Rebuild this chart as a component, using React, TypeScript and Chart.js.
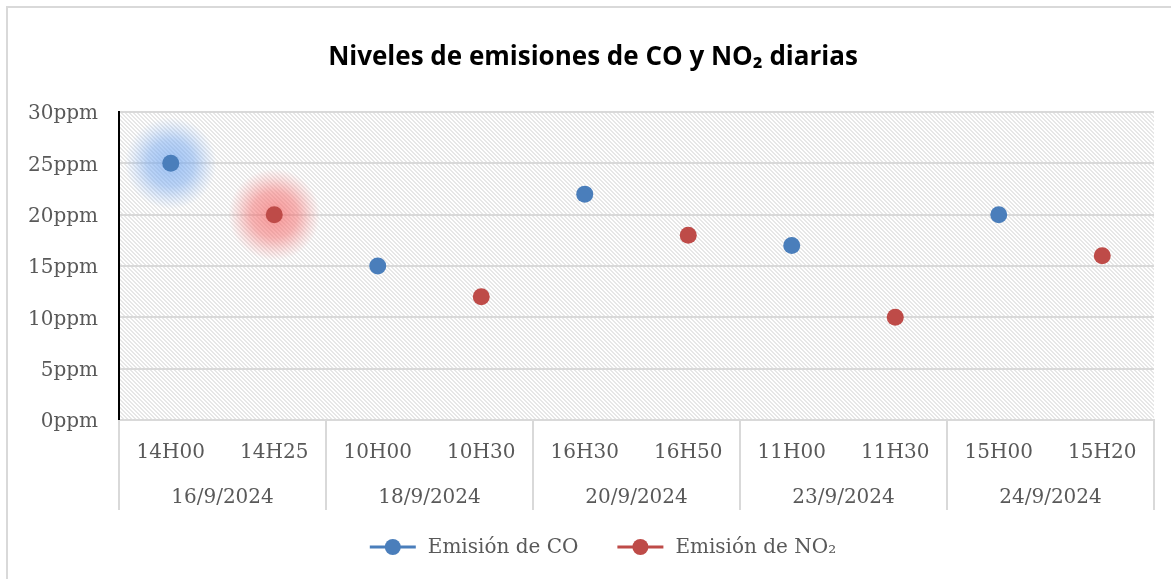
import React, { useEffect, useRef } from "react";
import { Chart, registerables } from "chart.js";

Chart.register(...registerables);

const times = ["14H00", "14H25", "10H00", "10H30", "16H30", "16H50", "11H00", "11H30", "15H00", "15H20"];
const days = ["16/9/2024", "16/9/2024", "18/9/2024", "18/9/2024", "20/9/2024", "20/9/2024", "23/9/2024", "23/9/2024", "24/9/2024", "24/9/2024"];
const coValues = [25, null, 15, null, 22, null, 17, null, 20, null];
const no2Values = [null, 20, null, 12, null, 18, null, 10, null, 16];
const seriesNames = ["Emisión de CO", "Emisión de NO₂"];
const seriesColors = ["#4a7ebb", "#be4b48"];
const glowColors = ["120,170,240", "245,110,110"];
const yTicks = [0, 5, 10, 15, 20, 25, 30];
const titleText = "Niveles de emisiones de CO y NO₂ diarias";

const SERIF = "'DejaVu Serif', serif";
const TEXT = "#595959";
const GRID = "#d9d9d9";

function makeHatch(): CanvasPattern | string {
  const c = document.createElement("canvas");
  c.width = 4;
  c.height = 4;
  const g = c.getContext("2d");
  if (!g) return "#fff";
  g.fillStyle = "#ffffff";
  g.fillRect(0, 0, 4, 4);
  g.fillStyle = "#e7e7e7";
  for (let y = 0; y < 4; y++) {
    for (let x = 0; x < 4; x++) {
      const m = (((x - y) % 4) + 4) % 4;
      if (m === 0 || m === 1) g.fillRect(x, y, 1, 1);
    }
  }
  const ctx = document.createElement("canvas").getContext("2d")!;
  return ctx.createPattern(c, "repeat") || "#fff";
}

const decorPlugin = {
  id: "decor",
  beforeDraw(chart: any) {
    const { ctx, chartArea } = chart;
    ctx.save();
    ctx.fillStyle = "#ffffff";
    ctx.fillRect(0, 0, chart.width, chart.height);
    ctx.strokeStyle = GRID;
    ctx.lineWidth = 2;
    ctx.strokeRect(7, 7, chart.width + 20, chart.height + 20);
    ctx.fillStyle = makeHatch();
    ctx.fillRect(chartArea.left, chartArea.top, chartArea.right - chartArea.left, chartArea.bottom - chartArea.top);
    ctx.restore();
  },
  beforeDatasetsDraw(chart: any) {
    const { ctx } = chart;
    ctx.save();
    chart.data.datasets.forEach((ds: any, di: number) => {
      const idx = ds.data.findIndex((v: any) => v !== null);
      const meta = chart.getDatasetMeta(di);
      const el = meta.data[idx];
      if (!el) return;
      const r = 46;
      const grad = ctx.createRadialGradient(el.x, el.y, 0, el.x, el.y, r);
      grad.addColorStop(0, `rgba(${glowColors[di]},0.7)`);
      grad.addColorStop(0.5, `rgba(${glowColors[di]},0.5)`);
      grad.addColorStop(0.8, `rgba(${glowColors[di]},0.18)`);
      grad.addColorStop(1, `rgba(${glowColors[di]},0)`);
      ctx.fillStyle = grad;
      ctx.beginPath();
      ctx.arc(el.x, el.y, r, 0, Math.PI * 2);
      ctx.fill();
    });
    ctx.restore();
  },
  afterDraw(chart: any) {
    const { ctx, chartArea } = chart;
    const xs = chart.scales.x;
    const n = times.length;
    const cw = (chartArea.right - chartArea.left) / n;
    ctx.save();
    ctx.strokeStyle = GRID;
    ctx.lineWidth = 2;
    const axisBottom = chartArea.bottom + 90;
    let start = 0;
    const bounds: number[] = [0];
    for (let i = 1; i <= n; i++) {
      if (i === n || days[i] !== days[start]) {
        bounds.push(i);
        const x0 = xs.getPixelForValue(start) - cw / 2;
        const x1 = xs.getPixelForValue(i - 1) + cw / 2;
        ctx.fillStyle = TEXT;
        ctx.font = `20px ${SERIF}`;
        ctx.textAlign = "center";
        ctx.textBaseline = "middle";
        ctx.fillText(days[start], (x0 + x1) / 2, chartArea.bottom + 78);
        start = i;
      }
    }
    bounds.forEach((b) => {
      const x = b < n ? xs.getPixelForValue(b) - cw / 2 : xs.getPixelForValue(n - 1) + cw / 2;
      ctx.beginPath();
      ctx.moveTo(x, chartArea.bottom);
      ctx.lineTo(x, axisBottom);
      ctx.stroke();
    });
    ctx.fillStyle = "#000";
    ctx.font = `bold 26px 'Open Sans', sans-serif`;
    ctx.textAlign = "center";
    ctx.textBaseline = "middle";
    ctx.fillText(titleText, 593, 58);
    ctx.font = `20px ${SERIF}`;
    const lineW = 46;
    const gapText = 12;
    const gapItem = 39;
    const widths = seriesNames.map((s) => ctx.measureText(s).width);
    const total = widths.reduce((a, w) => a + lineW + gapText + w, 0) + gapItem * (seriesNames.length - 1);
    let lx = 603 - total / 2;
    const ly = 547;
    seriesNames.forEach((name, i) => {
      ctx.strokeStyle = seriesColors[i];
      ctx.lineWidth = 3;
      ctx.beginPath();
      ctx.moveTo(lx, ly);
      ctx.lineTo(lx + lineW, ly);
      ctx.stroke();
      ctx.fillStyle = seriesColors[i];
      ctx.beginPath();
      ctx.arc(lx + lineW / 2, ly, 8, 0, Math.PI * 2);
      ctx.fill();
      ctx.fillStyle = TEXT;
      ctx.textAlign = "left";
      ctx.textBaseline = "middle";
      ctx.fillText(name, lx + lineW + gapText, ly + 1);
      lx += lineW + gapText + widths[i] + gapItem;
    });
    ctx.restore();
  },
};

export default function App() {
  const ref = useRef<HTMLCanvasElement | null>(null);
  useEffect(() => {
    if (!ref.current) return;
    const chart = new Chart(ref.current, {
      type: "line",
      data: {
        labels: times,
        datasets: [
          {
            label: seriesNames[0],
            data: coValues,
            showLine: false,
            backgroundColor: seriesColors[0],
            borderColor: seriesColors[0],
            pointRadius: 8.5,
            pointHoverRadius: 8.5,
            pointBorderWidth: 0,
          },
          {
            label: seriesNames[1],
            data: no2Values,
            showLine: false,
            backgroundColor: seriesColors[1],
            borderColor: seriesColors[1],
            pointRadius: 8.5,
            pointHoverRadius: 8.5,
            pointBorderWidth: 0,
          },
        ],
      },
      options: {
        responsive: false,
        animation: false,
        events: [],
        layout: { padding: { left: 0, right: 17, top: 112, bottom: 69 } },
        plugins: {
          legend: { display: false },
          title: { display: false },
          tooltip: { enabled: false },
        },
        scales: {
          x: {
            type: "category",
            offset: true,
            afterFit: (s: any) => {
              s.height = 90;
            },
            grid: { display: false, drawOnChartArea: false, drawTicks: false },
            border: { display: true, color: GRID, width: 2 },
            ticks: {
              color: TEXT,
              font: { family: SERIF, size: 20 },
              padding: 21,
              maxRotation: 0,
              autoSkip: false,
            },
          },
          y: {
            min: yTicks[0],
            max: yTicks[yTicks.length - 1],
            afterFit: (s: any) => {
              s.width = 119;
            },
            afterBuildTicks: (s: any) => {
              s.ticks = yTicks.map((v) => ({ value: v }));
            },
            grid: { color: GRID, lineWidth: 2, drawTicks: false },
            border: { display: true, color: "#000000", width: 2 },
            ticks: {
              color: TEXT,
              font: { family: SERIF, size: 20 },
              padding: 21,
              labelOffset: 2,
              callback: (v: any) => `${v}ppm`,
            },
          },
        },
      },
      plugins: [decorPlugin],
    });
    return () => chart.destroy();
  }, []);
  return (
    <div style={{ position: "absolute", left: 0, top: 0, width: 1171, height: 579 }}>
      <canvas ref={ref} width={1171} height={579} style={{ display: "block" }} />
    </div>
  );
}
